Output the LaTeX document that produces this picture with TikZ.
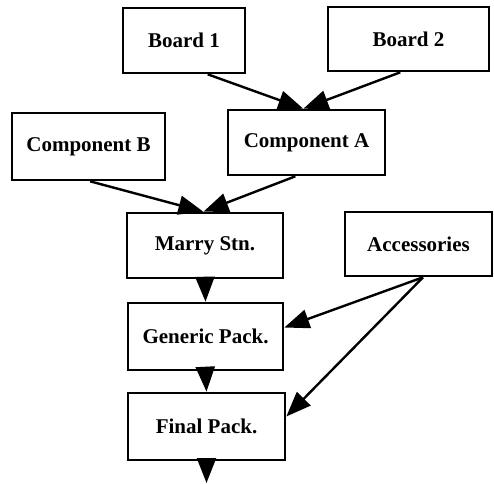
\documentclass[tikz,border=0pt]{standalone}
\usepackage{fontspec}
\setmainfont{Liberation Serif}
\usetikzlibrary{arrows.meta,calc}
\begin{document}
\begin{tikzpicture}[x=1pt,y=-1pt,
  box/.style={draw, line width=2.6pt, inner sep=0pt, font=\bfseries\fontsize{21}{25}\selectfont},
  conn/.style={line width=2.4pt, -{Triangle[length=25pt,width=19pt]}}]
\useasboundingbox (0,0) rectangle (494,483);
\node[box, minimum width=122pt, minimum height=65pt] (b1) at (184,40.5) {Board 1};
\node[box, minimum width=161pt, minimum height=64pt] (b2) at (408.5,39) {Board 2};
\node[box, minimum width=157pt, minimum height=65pt] (cA) at (306.5,142.5) {Component A};
\node[box, minimum width=153pt, minimum height=67pt] (cB) at (88.5,146.5) {Component B};
\node[box, minimum width=156pt, minimum height=65pt] (ms) at (205,245.5) {Marry Stn.};
\node[box, minimum width=147pt, minimum height=64pt] (acc) at (418.5,244) {Accessories};
\node[box, minimum width=155pt, minimum height=67pt] (gp) at (205.5,336.5) {Generic Pack.};
\node[box, minimum width=157pt, minimum height=67pt] (fp) at (206.5,426.5) {Final Pack.};
\coordinate (out) at (206.5,483);
\draw[conn] ($(b1.south west)!0.69!(b1.south east)$) -- ($(cA.north west)!0.48!(cA.north east)$);
\draw[conn] ($(b2.south west)!0.45!(b2.south east)$) -- ($(cA.north west)!0.48!(cA.north east)$);
\draw[conn] ($(cB.south west)!0.51!(cB.south east)$) -- ($(ms.north west)!0.49!(ms.north east)$);
\draw[conn] ($(cA.south west)!0.43!(cA.south east)$) -- ($(ms.north west)!0.49!(ms.north east)$);
\draw[conn] (ms.south) -- (gp.north);
\draw[conn] (gp.south) -- (fp.north);
\draw[conn] (fp.south) -- (out);
\draw[conn] ($(acc.south west)!0.53!(acc.south east)$) -- ($(gp.east)+(0,-9)$);
\draw[conn] ($(acc.south west)!0.53!(acc.south east)$) -- ($(fp.east)+(0,-10)$);
\end{tikzpicture}
\end{document}
